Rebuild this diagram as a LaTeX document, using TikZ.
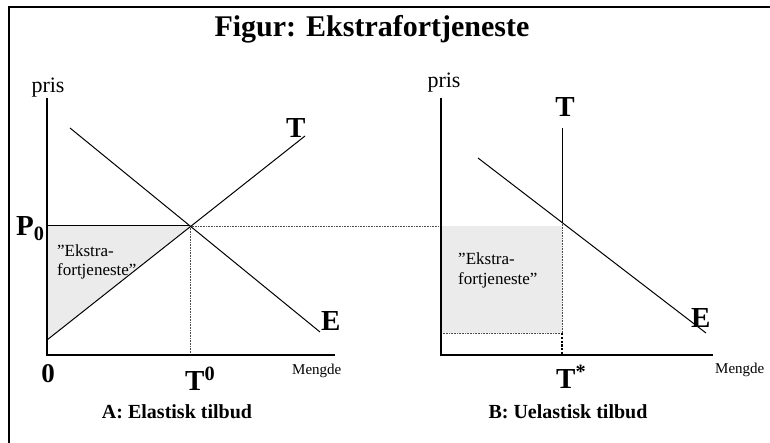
\documentclass[tikz,border=0pt]{standalone}
\usepackage{fontspec}
\setmainfont{Liberation Serif}
\begin{document}
\begin{tikzpicture}[x=1pt,y=-1pt,
  axis/.style={line width=1.4pt},
  curve/.style={line width=1pt},
  guide/.style={densely dotted,line width=0.6pt,black!70},
  shade/.style={fill=black!8},
  big/.style={font=\fontsize{29}{32}\selectfont\bfseries,inner sep=0pt},
  lab/.style={font=\fontsize{22}{24}\selectfont,inner sep=0pt},
  small/.style={font=\fontsize{15}{17}\selectfont,inner sep=0pt},
  captxt/.style={font=\fontsize{20}{22}\selectfont\bfseries,inner sep=0pt},
  area/.style={font=\fontsize{17}{20}\selectfont,inner sep=0pt,align=left}]
\useasboundingbox (0,0) rectangle (770,443);
\clip (0,0) rectangle (770,443);
\draw[line width=1.5pt] (9,7) rectangle (790,460);
% title
\node[font=\fontsize{30}{34}\selectfont\bfseries,inner sep=0pt,anchor=base] (title) at (372,37) {Figur: Ekstrafortjeneste};
% ---------- Panel A ----------
\coordinate (oA) at (47,355);
\coordinate (yA) at (47,98);
\coordinate (xA) at (335,355);
\coordinate (eqA) at (190,226);
\coordinate (sA0) at (47,340);
\coordinate (sA1) at (305,136);
\coordinate (dA0) at (70,128);
\coordinate (dA1) at (320,332);
\coordinate (qA) at (190,355);
\coordinate (pB) at (562,226);
\fill[shade] (yA |- eqA) -- (eqA) -- (sA0) -- cycle;
\draw[guide] (eqA) -- (qA);
\draw[guide] (eqA) -- (pB);
\draw[curve] (yA |- eqA) -- (eqA);
\draw[axis] (yA) -- (oA) -- (xA);
\draw[curve] (sA0) -- (sA1);
\draw[curve] (dA0) -- (dA1);
\node[lab,anchor=base] (prisA) at (48,93) {pris};
\node[big,anchor=base west] (TA) at (286,138) {T};
\node[big,anchor=base west] (EA) at (321,330) {E};
\node[big,anchor=base west] (P0) at (16,236) {P\textsubscript{0}};
\node[big,anchor=base,font=\fontsize{27}{30}\selectfont\bfseries] (zero) at (48,382) {0};
\node[big,anchor=base west] (T0) at (185,390) {T\textsuperscript{0}};
\node[small,anchor=base west] (mA) at (292,374) {Mengde};
\node[area,anchor=base west] (exA1) at (57,257) {”Ekstra-};
\node[area,anchor=base west] (exA2) at (57,276) {fortjeneste”};
\node[captxt,anchor=base] (capA) at (177,418) {A: Elastisk tilbud};
% ---------- Panel B ----------
\coordinate (oB) at (441,355);
\coordinate (yB) at (441,98);
\coordinate (xB) at (713,355);
\coordinate (tB0) at (562,128);
\coordinate (tBi) at (562,222);
\coordinate (tB1) at (562,333);
\coordinate (tB2) at (562,355);
\coordinate (dB0) at (478,158);
\coordinate (dB1) at (706,333);
\fill[shade] (441,226) rectangle (tB1);
\draw[guide] (yB |- tB1) -- (tB1);
\draw[guide] (tBi) -- (tB1);
\draw[curve] (tB0) -- (tBi);
\draw[line width=1.4pt,dash pattern=on 2.2pt off 1.6pt] (tB1) -- (tB2);
\draw[axis] (yB) -- (oB) -- (xB);
\draw[curve] (dB0) -- (dB1);
\node[lab,anchor=base] (prisB) at (444,88) {pris};
\node[big,anchor=base] (TB) at (565,117) {T};
\node[big,anchor=base west] (EB) at (691,327) {E};
\node[big,anchor=base west] (Ts) at (556,388) {T\textsuperscript{*}};
\node[small,anchor=base west] (mB) at (715,373) {Mengde};
\node[area,anchor=base west] (exB1) at (458,265) {”Ekstra-};
\node[area,anchor=base west] (exB2) at (458,284) {fortjeneste”};
\node[captxt,anchor=base] (capB) at (568,418) {B: Uelastisk tilbud};
\end{tikzpicture}
\end{document}
